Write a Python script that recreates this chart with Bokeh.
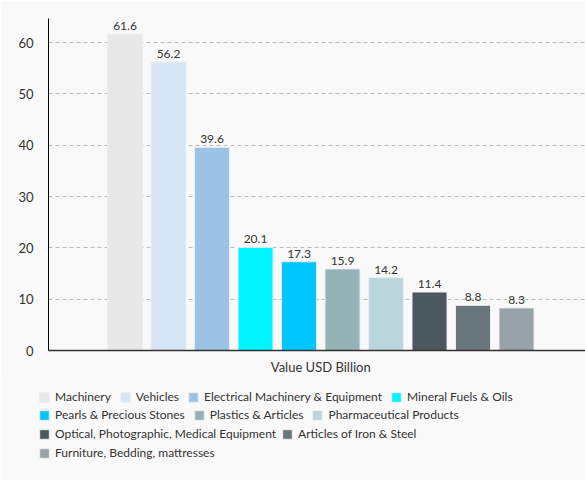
from bokeh.plotting import figure
from bokeh.layouts import column
from bokeh.models import (ColumnDataSource, Range1d, FixedTicker, SingleIntervalTicker,
                          Legend, LegendItem)
from bokeh.core.properties import value
from bokeh.embed import file_html
from bokeh.resources import INLINE

categories = ["Machinery", "Vehicles", "Electrical Machinery & Equipment",
              "Mineral Fuels & Oils", "Pearls & Precious Stones", "Plastics & Articles",
              "Pharmaceutical Products", "Optical, Photographic, Medical Equipment",
              "Articles of Iron & Steel", "Furniture, Bedding, mattresses"]
values = [61.6, 56.2, 39.6, 20.1, 17.3, 15.9, 14.2, 11.4, 8.8, 8.3]
colors = ["#e8e8e8", "#d6e6f6", "#9cc3e6", "#00f6ff", "#00c6ff",
          "#95b2b7", "#b8d6db", "#4a575c", "#687679", "#97a3a7"]
group_label = "Value USD Billion"
legend_rows = [[0, 1, 2, 3], [4, 5, 6], [7, 8], [9]]

FONT = "Lato"
TXT = "#333333"
BG = "#f9f9f9"

xs = list(range(len(values)))
src = ColumnDataSource(dict(x=xs, top=values, color=colors, cat=categories,
                            lbl=[f"{v:.1f}" for v in values]))

p = figure(width=585, height=377, output_backend="svg", toolbar_location=None,
           x_range=Range1d(-1.759, 10.586), y_range=Range1d(0, 64.7),
           min_border_left=48, min_border_right=0, min_border_top=18, min_border_bottom=20)
p.frame_align = False
p.background_fill_color = BG
p.border_fill_color = BG
p.outline_line_color = None

p.vbar(x="x", top="top", width=0.805, fill_color="color", line_color="#eeeeee",
       line_width=1, source=src)
p.text(x="x", y="top", text="lbl", source=src, text_font=value(FONT),
       text_font_size="12px", text_color=TXT, text_align="center",
       text_baseline="bottom", y_offset=-4)

p.yaxis.ticker = SingleIntervalTicker(interval=10)
p.yaxis.axis_line_color = "#000000"
p.yaxis.major_tick_line_color = None
p.yaxis.minor_tick_line_color = None
p.yaxis.major_tick_out = 0
p.yaxis.minor_tick_out = 0
p.yaxis.major_label_standoff = 15
p.yaxis.major_label_text_font = FONT
p.yaxis.major_label_text_font_size = "13px"
p.yaxis.major_label_text_color = TXT

center = sum(xs) / len(xs)
p.xaxis.ticker = FixedTicker(ticks=[center])
p.xaxis.major_label_overrides = {center: group_label}
p.xaxis.axis_line_color = "#333333"
p.xaxis.axis_line_width = 1.5
p.xaxis.major_tick_line_color = None
p.xaxis.minor_tick_line_color = None
p.xaxis.major_label_standoff = 2
p.xaxis.major_label_text_font = FONT
p.xaxis.major_label_text_font_size = "13px"
p.xaxis.major_label_text_color = TXT

p.xgrid.grid_line_color = None
p.ygrid.grid_line_color = "#bbbbbb"
p.ygrid.grid_line_dash = "4 3"

# legend panel
lp = figure(width=585, height=103, output_backend="svg", toolbar_location=None,
            x_range=Range1d(100, 101), y_range=Range1d(100, 101),
            x_axis_location=None, y_axis_location=None,
            min_border_left=0, min_border_right=0, min_border_top=0, min_border_bottom=0)
lp.frame_align = False
lp.background_fill_color = BG
lp.border_fill_color = BG
lp.outline_line_color = None
lp.grid.visible = False
lr = lp.vbar(x="x", top="top", width=0.805, fill_color="color", line_color="#eeeeee",
             line_width=1, source=src)

row_y = [76, 58, 39, 20]
row_spacing = [8, 8, 5, 8]
for row, ly, sp in zip(legend_rows, row_y, row_spacing):
    items = [LegendItem(label=categories[i], renderers=[lr], index=i) for i in row]
    lg = Legend(items=items, orientation="horizontal", location=(38, ly),
                glyph_width=12, glyph_height=12, label_standoff=5, label_height=12,
                label_text_font=FONT, label_text_font_size="12px", label_text_color=TXT,
                padding=0, margin=0, spacing=sp, border_line_color=None,
                background_fill_alpha=0)
    lp.add_layout(lg, "center")

layout = column(p, lp, spacing=0)
open("out.html", "w").write(file_html(layout, INLINE))
